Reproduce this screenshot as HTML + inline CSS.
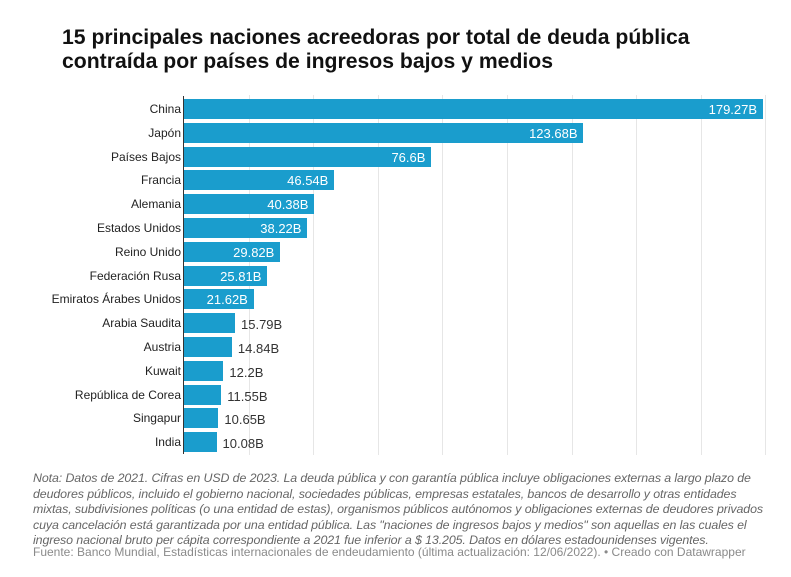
<!DOCTYPE html><html><head><meta charset="utf-8"><style>
body{margin:0;width:791px;height:577px;background:#fff;font-family:"Liberation Sans",sans-serif;position:relative;overflow:hidden}
.t{position:absolute;left:62px;top:26px;font-size:21.2px;font-weight:bold;line-height:24px;color:#111}
.l{position:absolute;right:610px;font-size:12px;color:#222;text-align:right;white-space:nowrap}
.b{position:absolute;left:184px;height:20px;background:#1a9dcd}
.v{position:absolute;font-size:13px;white-space:nowrap}
.g{position:absolute;top:95px;height:360px;width:1px;background:#e6e6e6}
.n{position:absolute;left:33px;top:471px;width:750px;font-size:12.4px;font-style:italic;color:#666;line-height:15.5px;letter-spacing:-0.1px}
.f{position:absolute;left:33px;top:545px;font-size:12px;color:#8a8a8a}
</style></head><body>
<div class="t">15 principales naciones acreedoras por total de deuda pública<br>contraída por países de ingresos bajos y medios</div>
<div id="c"></div>
<div class="n">Nota: Datos de 2021. Cifras en USD de 2023. La deuda pública y con garantía pública incluye obligaciones externas a largo plazo de<br>deudores públicos, incluido el gobierno nacional, sociedades públicas, empresas estatales, bancos de desarrollo y otras entidades<br>mixtas, subdivisiones políticas (o una entidad de estas), organismos públicos autónomos y obligaciones externas de deudores privados<br>cuya cancelación está garantizada por una entidad pública. Las "naciones de ingresos bajos y medios" son aquellas en las cuales el<br>ingreso nacional bruto per cápita correspondiente a 2021 fue inferior a $ 13.205. Datos en dólares estadounidenses vigentes.</div>
<div class="f">Fuente: Banco Mundial, Estadísticas internacionales de endeudamiento (última actualización: 12/06/2022). • Creado con Datawrapper</div>
<script>
var d=[["China",179.27,"179.27B"],["Japón",123.68,"123.68B"],["Países Bajos",76.6,"76.6B"],["Francia",46.54,"46.54B"],["Alemania",40.38,"40.38B"],["Estados Unidos",38.22,"38.22B"],["Reino Unido",29.82,"29.82B"],["Federación Rusa",25.81,"25.81B"],["Emiratos Árabes Unidos",21.62,"21.62B"],["Arabia Saudita",15.79,"15.79B"],["Austria",14.84,"14.84B"],["Kuwait",12.2,"12.2B"],["República de Corea",11.55,"11.55B"],["Singapur",10.65,"10.65B"],["India",10.08,"10.08B"]];
var h="";
for(var k=1;k<10;k++)h+='<div class="g" style="left:'+(184+k*64.6)+'px"></div>';
h+='<div style="position:absolute;left:183px;top:96px;width:1px;height:358px;background:#333"></div>';
d.forEach(function(r,i){var y=99+i*23.8,w=r[1]*3.23;
h+='<div class="l" style="top:'+(y+3)+'px">'+r[0]+'</div><div class="b" style="top:'+y+'px;width:'+w+'px"></div>';
if(r[1]>20)h+='<div class="v" style="color:#fff;top:'+(y+3)+'px;right:'+(791-184-w+6)+'px">'+r[2]+'</div>';
else h+='<div class="v" style="color:#333;top:'+(y+4)+'px;left:'+(184+w+6)+'px">'+r[2]+'</div>';});
document.getElementById("c").innerHTML=h;
</script>
</body></html>
